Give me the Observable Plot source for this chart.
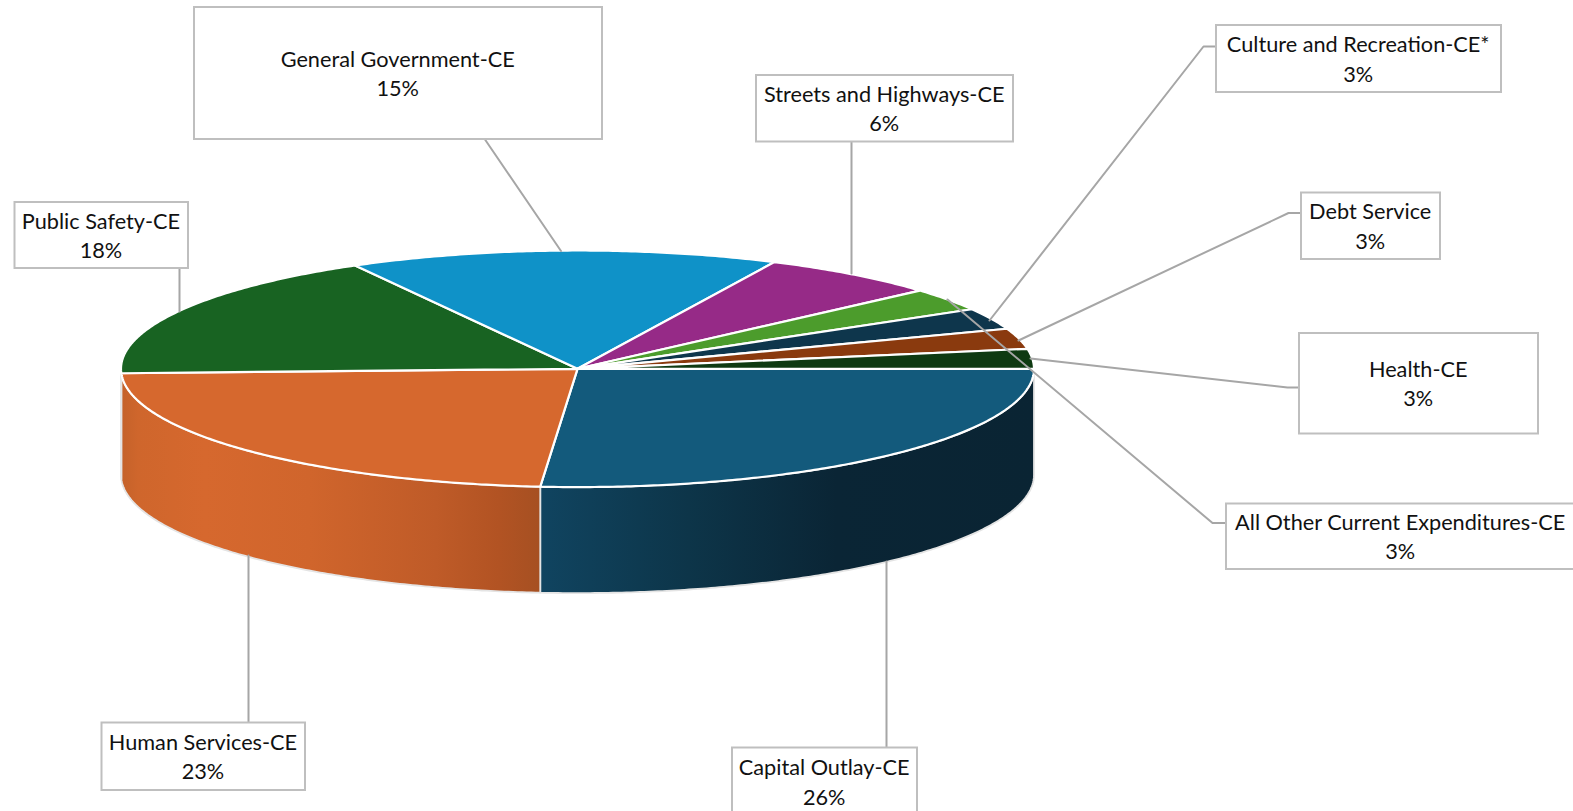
<!DOCTYPE html>
<html>
<head>
<meta charset="utf-8">
<script src="https://cdn.jsdelivr.net/npm/d3@7"></script>
<script src="https://cdn.jsdelivr.net/npm/@observablehq/plot@0.6"></script>
<style>
html,body{margin:0;padding:0;background:#fff;overflow:hidden}
svg{display:block}
</style>
</head>
<body>
<div id="chart"></div>
<script>
// ---- data (percent of total, clockwise from 3 o'clock)
const categories = ["Capital Outlay-CE","Human Services-CE","Public Safety-CE","General Government-CE","Streets and Highways-CE","All Other Current Expenditures-CE","Culture and Recreation-CE*","Debt Service","Health-CE"];
const shares = [26.3,23.1,17.5,15.2,6.4,3.1,2.9,2.8,2.7];
const topColors = ["#135a7c","#d6682e","#186322","#0f92c8","#962a87","#4c9c2c","#0e364c","#8a3a0e","#0f3a12"];

// ---- layout of the pie and the callouts, in the x/y scale's units
const pie = {cx:577, cy:368.3, rx:456.5, ry:118.3, depth:106};
const boxes = {
  "General Government-CE":[194,602,7,139],
  "Streets and Highways-CE":[756,1013,75,141.5],
  "Culture and Recreation-CE*":[1216,1501,25,92],
  "Debt Service":[1301,1440,192.5,259],
  "Health-CE":[1299,1538,333,433.5],
  "All Other Current Expenditures-CE":[1226,1575,503.5,569],
  "Capital Outlay-CE":[732,917,747.5,816],
  "Human Services-CE":[101.5,305,722.5,790],
  "Public Safety-CE":[14.5,188,202,268]
};
const leaders = {
  "General Government-CE":[[484.5,139],[560.5,250.5]],
  "Streets and Highways-CE":[[851,141.5],[851,273]],
  "Culture and Recreation-CE*":[[1216,46],[1203,46],[989,320]],
  "Debt Service":[[1301,212.5],[1288,212.5],[1018,340]],
  "Health-CE":[[1299,387],[1287,387],[1030,358]],
  "All Other Current Expenditures-CE":[[1226,522.5],[1212,522.5],[947,299]],
  "Capital Outlay-CE":[[886,747.5],[886,561]],
  "Human Services-CE":[[248,722.5],[248,555]],
  "Public Safety-CE":[[179,268],[179,311]]
};

// ---- slices derived from the shares
const total = d3.sum(shares);
const toAngle = d3.scaleLinear().domain([0,total]).range([0,2*Math.PI]);
const cum = d3.cumsum(shares);
const slices = categories.map((name,i)=>({name,value:shares[i],color:topColors[i],a0:toAngle(i?cum[i-1]:0),a1:toAngle(cum[i])}));
const rim = (a,dy=0)=>({x:pie.cx+pie.rx*Math.cos(a),y:pie.cy+pie.ry*Math.sin(a)+dy});
const arc = (a0,a1)=>{const n=Math.max(2,Math.ceil((a1-a0)/0.01));return d3.range(n+1).map(k=>a0+(a1-a0)*k/n);};

const topPath = s=>[{x:pie.cx,y:pie.cy},...arc(s.a0,s.a1).map(a=>rim(a)),{x:pie.cx,y:pie.cy}];
const sidePath = s=>{
  const a0=s.a0,a1=Math.min(s.a1,Math.PI);
  if(a0>=Math.PI)return null;
  const a=arc(a0,a1);
  const pts=[...a.map(t=>rim(t)),...a.slice().reverse().map(t=>rim(t,pie.depth))];
  pts.push(pts[0]);
  return pts;
};
const sideFill = {"Capital Outlay-CE":"url(#sideCapital)","Human Services-CE":"url(#sideHuman)"};

function gradient(id,stops){
  const g=d3.create("svg:linearGradient").attr("id",id).attr("x1",0).attr("x2",1).attr("y1",0).attr("y2",0);
  stops.forEach(([o,c])=>g.append("stop").attr("offset",o).attr("stop-color",c));
  return g.node();
}
const defsMark = ()=>{
  const d=d3.create("svg:defs");
  d.append(()=>gradient("sideHuman",[[0,"#c4622a"],[0.04,"#cf662c"],[0.2,"#d6682e"],[0.45,"#d0652c"],[0.75,"#bf5b28"],[0.9,"#b25323"],[1,"#a65022"]]));
  d.append(()=>gradient("sideCapital",[[0,"#104460"],[0.3,"#0d3549"],[0.6,"#0a2535"],[1,"#0a2433"]]));
  return d.node();
};

const sideMarks = slices.filter(s=>sidePath(s)).map(s=>Plot.line(sidePath(s),{x:"x",y:"y",fill:sideFill[s.name]||s.color,stroke:"#e4e4e4",strokeWidth:1.8,strokeLinejoin:"round"}));
const topMarks = slices.map(s=>Plot.line(topPath(s),{x:"x",y:"y",fill:s.color,stroke:"#fff",strokeWidth:2.2,strokeLinejoin:"round"}));
const leaderMarks = categories.map(n=>Plot.line(leaders[n].map(([x,y])=>({x,y})),{x:"x",y:"y",stroke:"#a6a6a6",strokeWidth:2}));
const boxData = slices.map(s=>{const [x1,x2,y1,y2]=boxes[s.name];return {x1,x2,y1,y2,label:s.name+"\n"+Math.round(s.value)+"%",tx:(x1+x2)/2-0.8,ty:(y1+y2)/2-1.6};});

const chart = Plot.plot({
  width:1573,height:811,
  marginTop:0,marginRight:0,marginBottom:0,marginLeft:0,
  x:{domain:[0,1573],range:[0,1573],axis:null},
  y:{domain:[0,811],range:[0,811],axis:null},
  style:{background:"#fff"},
  marks:[
    defsMark,
    ...sideMarks,
    ...topMarks,
    ...leaderMarks,
    Plot.rect(boxData,{x1:"x1",x2:"x2",y1:"y1",y2:"y2",fill:"#fff",stroke:"#bfbfbf",strokeWidth:2}),
    Plot.text(boxData,{x:"tx",y:"ty",text:"label",fontFamily:"Lato",fontSize:21.7,lineHeight:1.36,fill:"#111",textAnchor:"middle"})
  ]
});
document.getElementById("chart").append(chart);
</script>
</body>
</html>
